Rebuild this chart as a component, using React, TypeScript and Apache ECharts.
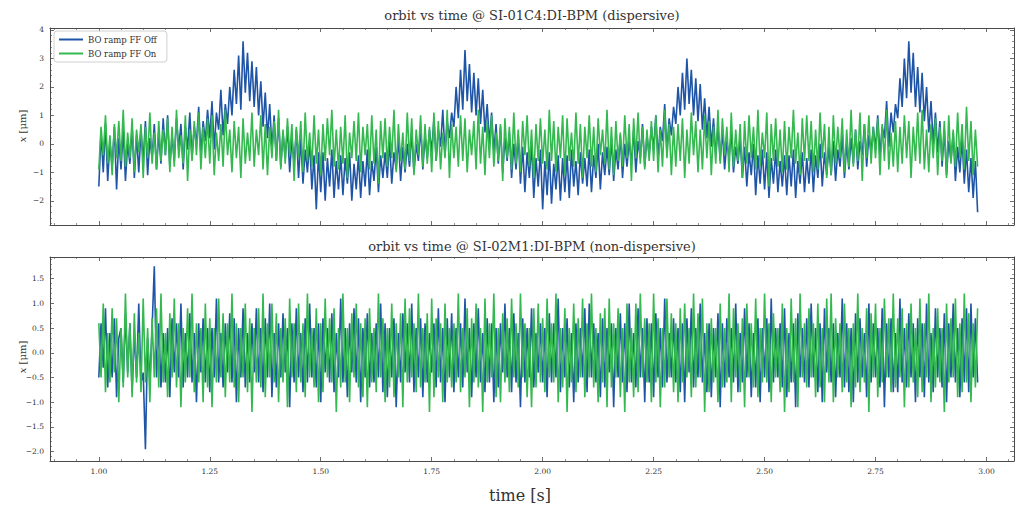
import React, { useEffect, useRef } from "react";
import * as echarts from "echarts";

// Sampling of the recorded orbit traces
const START_TIME = 1.0;
const SAMPLE_STEP = 0.005;

const SERIES_NAMES = ["BO ramp FF Off", "BO ramp FF On"];
const PANEL_TITLES = [
  "orbit vs time @ SI-01C4:DI-BPM (dispersive)",
  "orbit vs time @ SI-02M1:DI-BPM (non-dispersive)",
];

// SI-01C4 (dispersive) horizontal orbit, µm — one row per 50 ms
const dispersiveFFOff = [
  -1.5, 0.4, -1.0, 0.7, -1.3, 0.1, -0.8, 0.6, -1.6, 0.2,
  -0.9, 0.5, -1.3, 0.0, -0.7, 0.6, -1.2, 0.3, -1.0, 0.5,
  -0.6, 0.8, -1.1, 0.2, -0.5, 0.7, -0.9, 0.4, -0.7, 0.9,
  -0.4, 1.0, -0.8, 0.3, -0.6, 0.9, -0.2, 0.7, -0.9, 0.6,
  -0.2, 1.1, -0.5, 0.6, 0.0, 1.3, -0.4, 0.8, 0.1, 1.2,
  0.2, 1.5, -0.2, 1.1, 0.5, 1.9, 0.3, 1.4, 0.7, 2.0,
  1.0, 2.6, 1.4, 3.1, 1.2, 3.6, 1.8, 3.2, 1.5, 2.9,
  1.3, 2.7, 1.0, 2.2, 0.6, 1.8, 0.2, 1.4, -0.2, 1.0,
  -0.6, 0.9, -0.8, 0.4, -0.5, 0.6, -1.0, 0.2, -0.7, 0.5,
  -1.2, 0.2, -1.4, -0.2, -1.0, 0.1, -1.6, -0.4, -2.3, -0.3,
  -1.7, -0.3, -2.0, -0.5, -1.5, -0.2, -1.9, -0.6, -1.6, -0.4,
  -1.8, -0.5, -1.4, -0.3, -2.0, -0.7, -1.6, -0.4, -1.9, -0.6,
  -1.5, -0.2, -1.8, -0.6, -1.3, -0.1, -1.7, -0.4, -1.2, -0.3,
  -1.2, 0.1, -1.4, -0.3, -0.9, 0.2, -1.3, -0.1, -1.0, 0.0,
  -0.8, 0.4, -1.0, 0.0, -0.6, 0.6, -0.9, 0.3, -0.5, 0.5,
  -0.3, 0.9, -0.6, 0.5, -0.1, 1.2, -0.4, 0.8, 0.2, 1.1,
  0.6, 2.0, 0.9, 2.6, 1.2, 3.3, 1.5, 2.8, 1.1, 2.5,
  1.0, 2.3, 0.7, 1.9, 0.4, 1.4, 0.0, 1.1, -0.3, 0.7,
  -0.7, 0.6, -1.0, 0.2, -0.6, 0.4, -1.2, 0.0, -0.9, 0.3,
  -1.4, -0.1, -1.7, -0.3, -1.2, 0.0, -1.9, -0.5, -1.5, -0.2,
  -2.3, -0.6, -1.8, -0.3, -2.1, -0.7, -1.6, -0.4, -2.0, -0.5,
  -1.7, -0.4, -1.9, -0.2, -1.5, -0.6, -1.8, -0.3, -1.4, -0.5,
  -1.5, -0.2, -1.7, -0.4, -1.2, 0.0, -1.6, -0.3, -1.1, -0.1,
  -1.1, 0.2, -1.3, -0.2, -0.9, 0.3, -1.2, 0.0, -0.8, 0.1,
  -0.7, 0.5, -1.0, 0.1, -0.5, 0.7, -0.8, 0.3, -0.4, 0.6,
  -0.2, 1.0, -0.5, 0.6, 0.1, 1.4, -0.3, 0.9, 0.3, 1.3,
  0.7, 2.0, 1.0, 2.5, 1.2, 3.0, 1.4, 2.6, 1.0, 2.3,
  0.8, 2.1, 0.5, 1.6, 0.2, 1.3, -0.1, 0.9, -0.4, 0.6,
  -0.6, 0.5, -0.9, 0.1, -0.5, 0.4, -1.0, -0.1, -0.7, 0.2,
  -1.2, -0.1, -1.5, -0.3, -1.1, 0.0, -1.8, -0.4, -1.4, -0.2,
  -1.6, -0.3, -1.9, -0.5, -1.4, -0.2, -1.7, -0.6, -1.5, -0.4,
  -1.8, -0.4, -1.5, -0.2, -1.9, -0.6, -1.4, -0.3, -1.7, -0.5,
  -1.4, -0.2, -1.7, -0.4, -1.2, 0.0, -1.5, -0.3, -1.1, -0.1,
  -1.1, 0.1, -1.3, -0.2, -0.8, 0.3, -1.2, 0.0, -0.9, 0.2,
  -0.7, 0.5, -0.9, 0.1, -0.4, 0.7, -0.8, 0.3, -0.3, 0.6,
  -0.2, 1.0, -0.4, 0.6, 0.2, 1.5, -0.1, 1.1, 0.4, 1.4,
  0.9, 2.3, 1.3, 3.0, 1.6, 3.6, 1.8, 3.2, 1.3, 2.7,
  1.1, 2.5, 0.8, 2.0, 0.4, 1.5, 0.0, 1.1, -0.3, 0.8,
  -0.8, 0.5, -1.1, 0.1, -0.6, 0.4, -1.3, -0.1, -1.0, 0.2,
  -1.4, -0.2, -1.7, -0.5, -1.9, -0.6, -2.4,
];

const dispersiveFFOn = [
  -0.9, 0.6, -0.4, 1.0, -0.7, 0.3, -1.1, 0.7, -0.5, 0.8,
  -0.6, 1.2, -0.8, 0.4, -0.5, 0.9, -1.0, 0.5, -0.3, 0.7,
  -1.2, 0.6, -0.5, 1.1, -0.7, 0.4, -0.9, 0.8, -0.6, 0.5,
  -0.4, 0.9, -1.0, 0.6, -0.8, 1.2, -0.5, 0.3, -0.7, 1.0,
  -1.3, 0.5, -0.6, 0.8, -0.4, 1.1, -0.9, 0.6, -0.5, 0.9,
  -0.7, 1.0, -1.1, 0.4, -0.6, 0.7, -0.8, 1.2, -0.4, 0.5,
  -1.0, 0.8, -0.5, 0.6, -1.2, 0.9, -0.7, 0.4, -0.6, 1.1,
  -0.8, 0.5, -0.4, 1.0, -0.9, 0.7, -1.1, 0.6, -0.5, 0.8,
  -0.6, 1.2, -0.9, 0.5, -0.7, 0.9, -0.4, 0.7, -1.3, 0.6,
  -0.5, 0.8, -1.0, 1.1, -0.6, 0.4, -0.8, 1.0, -0.7, 0.5,
  -1.1, 0.7, -0.6, 0.9, -0.4, 1.2, -0.8, 0.5, -0.9, 0.6,
  -0.7, 1.0, -1.2, 0.4, -0.5, 0.8, -0.6, 1.1, -1.0, 0.6,
  -0.4, 0.7, -0.9, 1.0, -0.7, 0.5, -1.4, 0.8, -0.5, 0.9,
  -0.8, 0.6, -0.5, 1.2, -1.0, 0.7, -0.6, 0.4, -0.9, 1.1,
  -0.6, 0.9, -1.1, 0.5, -0.4, 1.0, -0.8, 0.7, -0.7, 0.6,
  -1.0, 1.1, -0.6, 0.8, -0.9, 0.4, -0.5, 1.2, -1.2, 0.7,
  -0.5, 0.6, -0.8, 1.0, -0.6, 0.9, -1.0, 0.5, -0.4, 0.8,
  -0.9, 1.2, -0.7, 0.6, -1.1, 0.8, -0.5, 1.0, -0.8, 0.4,
  -0.6, 0.7, -1.3, 0.9, -0.5, 0.6, -0.9, 1.1, -0.7, 0.5,
  -1.0, 0.8, -0.4, 1.0, -0.8, 0.5, -1.2, 0.7, -0.6, 0.9,
  -0.7, 0.5, -0.9, 1.2, -0.6, 0.8, -1.0, 0.6, -0.5, 1.0,
  -1.1, 0.9, -0.6, 0.4, -0.8, 1.1, -0.7, 0.7, -1.2, 0.6,
  -0.5, 1.0, -0.8, 0.6, -1.0, 0.9, -0.4, 0.5, -0.7, 1.2,
  -0.9, 0.6, -1.1, 0.8, -0.6, 0.4, -0.8, 1.0, -0.5, 0.7,
  -1.3, 0.9, -0.5, 1.1, -0.7, 0.6, -0.9, 0.5, -0.6, 0.8,
  -0.6, 1.0, -1.0, 0.5, -0.8, 1.2, -0.5, 0.7, -1.1, 0.6,
  -0.8, 0.7, -0.6, 0.9, -1.2, 0.5, -0.7, 1.1, -0.4, 0.8,
  -1.0, 0.5, -0.9, 1.0, -0.5, 0.8, -1.1, 0.6, -0.7, 1.2,
  -0.7, 0.9, -0.4, 0.6, -1.0, 1.1, -0.8, 0.5, -0.6, 0.7,
  -1.2, 0.8, -0.7, 1.0, -0.5, 0.6, -0.9, 1.2, -0.8, 0.4,
  -0.5, 1.1, -1.5, 0.7, -0.6, 0.9, -0.8, 0.5, -1.0, 0.8,
  -0.9, 0.6, -0.5, 1.2, -0.7, 0.4, -1.1, 0.9, -0.6, 1.0,
  -0.6, 0.8, -1.0, 0.5, -0.9, 1.1, -0.5, 0.7, -1.2, 0.6,
  -1.1, 1.0, -0.7, 0.6, -0.5, 0.9, -1.0, 0.5, -0.8, 1.2,
  -0.8, 0.5, -0.6, 1.1, -1.3, 0.7, -0.5, 1.0, -0.7, 0.6,
  -0.5, 0.9, -1.1, 0.7, -0.6, 1.2, -0.9, 0.4, -0.8, 0.8,
  -1.0, 0.6, -0.7, 1.0, -0.5, 0.8, -1.2, 0.6, -0.6, 1.1,
  -0.7, 1.2, -0.9, 0.5, -1.0, 0.7, -0.5, 0.9, -1.1, 0.6,
  -0.6, 0.8, -1.2, 1.0, -0.7, 0.5, -0.8, 1.1, -0.5, 0.7,
  -0.9, 1.3, -0.6, 0.8, -1.1, 0.5, -0.8,
];

// SI-02M1 (non-dispersive) horizontal orbit, µm — one row per 50 ms
const nonDispersiveFFOff = [
  -0.5, 0.6, -0.3, 0.9, -0.7, 0.4, -0.5, 0.7, -0.9, 0.3,
  0.5, -0.6, 0.8, -0.4, 0.6, -0.8, 0.4, -0.5, 1.0, -0.6,
  -0.4, -1.95, 0.3, -0.6, 0.5, 1.75, -0.5, 0.6, -0.7, 0.4,
  -0.6, 0.5, -0.9, 0.7, -0.4, 0.6, -0.5, 1.0, -0.7, 0.4,
  -0.5, 0.8, -0.6, 0.4, -1.0, 0.6, -0.4, 0.7, -0.6, 0.5,
  -0.8, 0.5, -0.5, 1.1, -0.6, 0.4, -0.7, 0.6, -0.4, 0.8,
  -0.6, 0.7, -1.0, 0.5, -0.5, 0.9, -0.7, 0.4, -0.6, 0.6,
  -0.4, 0.9, -0.6, 0.5, -0.8, 0.7, -0.5, 1.0, -0.9, 0.4,
  -0.7, 0.6, -0.5, 0.8, -0.4, 0.5, -1.1, 0.6, -0.6, 0.9,
  -0.5, 0.4, -0.8, 0.7, -0.6, 1.0, -0.5, 0.5, -0.7, 0.6,
  -1.0, 0.7, -0.4, 0.5, -0.6, 0.8, -0.8, 0.4, -0.5, 1.1,
  -0.6, 0.5, -0.9, 0.6, -0.4, 0.9, -0.6, 0.7, -1.0, 0.5,
  -0.5, 0.8, -0.7, 0.4, -0.6, 0.6, -0.5, 1.0, -0.8, 0.6,
  -0.9, 0.5, -0.5, 0.7, -1.1, 0.4, -0.6, 0.8, -0.4, 0.6,
  -0.6, 1.0, -0.8, 0.5, -0.5, 0.7, -0.9, 0.6, -0.6, 0.4,
  -0.4, 0.6, -0.7, 0.9, -0.6, 0.5, -1.0, 0.7, -0.5, 0.8,
  -0.8, 0.5, -0.5, 0.6, -0.7, 1.1, -0.4, 0.5, -0.9, 0.6,
  -0.5, 0.9, -0.6, 0.4, -0.8, 0.7, -0.6, 0.6, -1.0, 0.5,
  -0.7, 0.6, -0.4, 1.0, -0.5, 0.5, -0.8, 0.8, -0.6, 0.4,
  -1.1, 0.7, -0.6, 0.5, -0.5, 0.9, -0.7, 0.4, -0.4, 0.6,
  -0.6, 0.5, -0.9, 0.8, -0.6, 0.6, -0.5, 1.1, -0.8, 0.5,
  -0.5, 0.7, -0.7, 0.4, -1.0, 0.6, -0.6, 0.5, -0.5, 0.9,
  -0.8, 1.0, -0.5, 0.6, -0.6, 0.4, -0.9, 0.7, -0.7, 0.5,
  -0.4, 0.6, -1.1, 0.5, -0.5, 0.8, -0.6, 0.6, -0.8, 1.0,
  -0.6, 0.4, -0.7, 0.9, -0.5, 0.5, -1.0, 0.7, -0.6, 0.6,
  -0.9, 0.8, -0.5, 0.5, -0.7, 1.1, -0.6, 0.4, -0.5, 0.7,
  -0.6, 0.5, -0.8, 0.6, -1.0, 0.7, -0.4, 0.9, -0.7, 0.5,
  -0.5, 1.0, -0.6, 0.4, -0.8, 0.6, -0.9, 0.5, -0.5, 0.8,
  -1.1, 0.6, -0.7, 0.7, -0.5, 0.5, -0.6, 1.0, -0.8, 0.4,
  -0.6, 0.9, -0.5, 0.6, -0.9, 0.4, -0.7, 0.7, -1.0, 0.5,
  -0.5, 0.7, -0.8, 1.1, -0.6, 0.5, -0.5, 0.6, -0.7, 0.9,
  -0.9, 0.4, -0.6, 0.6, -1.1, 0.8, -0.5, 0.5, -0.6, 0.7,
  -0.7, 1.0, -0.5, 0.5, -0.8, 0.6, -1.0, 0.9, -0.4, 0.5,
  -0.6, 0.6, -0.9, 0.4, -0.5, 1.1, -0.7, 0.6, -0.8, 0.5,
  -1.0, 0.8, -0.6, 0.7, -0.5, 0.4, -0.9, 1.0, -0.6, 0.6,
  -0.5, 0.5, -0.7, 0.9, -1.1, 0.6, -0.5, 0.7, -0.8, 0.4,
  -0.8, 1.1, -0.6, 0.5, -0.7, 0.8, -0.5, 0.6, -1.0, 0.7,
  -0.5, 0.6, -0.9, 1.0, -0.6, 0.4, -0.8, 0.9, -0.5, 0.5,
  -0.7, 0.8, -1.0, 0.6, -0.5, 1.0, -0.6, 0.5, -0.9, 0.7,
  -0.6, 0.9, -0.8, 1.0, -0.5, 0.7, -0.6,
];

const nonDispersiveFFOn = [
  0.6, -0.5, 1.0, -0.8, 0.4, -0.6, 0.9, -0.4, 0.7, -1.0,
  0.5, -0.7, 1.2, -0.5, 0.6, -0.9, 0.8, -0.6, 0.4, -0.8,
  1.1, -0.6, 0.5, -1.0, 0.7, -0.5, 0.9, -0.7, 1.2, -0.6,
  0.4, -0.9, 0.8, -0.5, 1.1, -0.7, 0.6, -1.1, 0.5, -0.6,
  0.9, -0.5, 1.2, -0.8, 0.6, -0.6, 0.5, -1.0, 1.0, -0.7,
  0.7, -1.1, 0.5, -0.6, 1.1, -0.5, 0.8, -0.9, 0.6, -0.6,
  1.2, -0.7, 0.6, -1.0, 0.5, -0.5, 1.0, -0.8, 0.7, -1.2,
  0.5, -0.6, 0.9, -0.7, 1.2, -0.9, 0.6, -0.5, 1.0, -0.6,
  0.8, -1.0, 0.5, -0.6, 0.7, -1.1, 1.1, -0.5, 0.6, -0.8,
  1.0, -0.6, 0.6, -0.9, 1.2, -0.5, 0.5, -0.7, 0.9, -1.0,
  0.6, -0.8, 1.1, -0.5, 0.7, -0.6, 0.9, -1.2, 0.5, -0.7,
  1.2, -0.6, 0.5, -1.0, 0.8, -0.5, 1.0, -0.7, 0.6, -0.9,
  0.7, -1.1, 0.9, -0.6, 0.5, -0.8, 1.2, -0.5, 0.7, -1.0,
  0.5, -0.7, 1.0, -0.9, 0.6, -0.5, 0.8, -1.1, 1.1, -0.6,
  0.9, -0.5, 0.6, -0.8, 1.2, -0.7, 0.5, -0.6, 0.8, -1.2,
  1.1, -0.9, 0.7, -0.5, 0.6, -1.0, 1.0, -0.6, 0.5, -0.7,
  0.6, -0.6, 1.2, -0.8, 0.5, -0.5, 0.9, -1.1, 0.7, -0.6,
  1.0, -0.7, 0.5, -1.2, 1.1, -0.6, 0.6, -0.5, 1.2, -0.9,
  0.5, -1.0, 0.8, -0.6, 0.7, -0.8, 1.1, -0.5, 0.6, -0.7,
  1.2, -0.5, 0.6, -0.9, 0.5, -1.1, 0.9, -0.7, 1.0, -0.6,
  0.7, -0.8, 1.1, -0.5, 0.6, -0.6, 1.2, -1.0, 0.5, -0.7,
  0.9, -1.2, 0.5, -0.6, 1.0, -0.8, 0.7, -0.5, 1.1, -0.9,
  0.6, -0.5, 1.2, -0.7, 0.5, -1.0, 0.8, -0.6, 0.9, -1.1,
  1.1, -0.7, 0.6, -0.5, 0.9, -0.9, 0.5, -1.2, 1.0, -0.6,
  0.5, -0.9, 1.0, -0.8, 1.2, -0.5, 0.7, -0.6, 0.6, -1.0,
  1.2, -0.6, 0.7, -1.1, 0.5, -0.7, 1.1, -0.5, 0.8, -0.8,
  0.6, -1.0, 0.9, -0.6, 1.0, -0.5, 0.5, -0.9, 1.2, -0.7,
  0.8, -0.5, 1.1, -1.2, 0.6, -0.8, 0.7, -0.6, 0.5, -1.0,
  1.0, -0.7, 0.5, -0.6, 1.2, -1.0, 0.9, -0.5, 0.6, -0.8,
  0.7, -1.1, 1.0, -0.5, 0.6, -0.7, 1.1, -0.9, 0.5, -0.6,
  1.2, -0.6, 0.6, -1.0, 0.8, -0.5, 0.5, -0.8, 1.0, -1.2,
  0.5, -0.8, 1.1, -0.6, 0.7, -1.1, 1.2, -0.5, 0.6, -0.7,
  0.9, -0.5, 0.6, -0.9, 1.0, -0.7, 0.5, -1.0, 1.1, -0.6,
  1.2, -1.0, 0.7, -0.5, 0.6, -0.8, 1.0, -0.6, 0.5, -1.1,
  0.6, -0.7, 1.2, -0.8, 0.5, -0.6, 0.9, -1.2, 0.8, -0.5,
  1.0, -0.9, 0.5, -0.6, 1.1, -0.5, 0.7, -0.8, 1.2, -0.7,
  0.7, -0.5, 0.9, -1.1, 0.6, -0.7, 1.0, -0.6, 0.5, -0.9,
  1.1, -0.8, 0.6, -0.5, 1.2, -1.0, 0.5, -0.7, 0.9, -0.6,
  0.5, -1.2, 1.0, -0.6, 0.7, -0.5, 1.1, -0.9, 0.6, -0.8,
  1.2, -0.6, 0.8, -1.0, 0.6, -0.7, 0.9,
];

// Axis ticks
const timeTicks = [1.0, 1.25, 1.5, 1.75, 2.0, 2.25, 2.5, 2.75, 3.0];
const timeMinorTicks = [
  0.9, 0.95, 1.05, 1.1, 1.15, 1.2, 1.3, 1.35, 1.4, 1.45, 1.55, 1.6, 1.65, 1.7,
  1.8, 1.85, 1.9, 1.95, 2.05, 2.1, 2.15, 2.2, 2.3, 2.35, 2.4, 2.45, 2.55, 2.6,
  2.65, 2.7, 2.8, 2.85, 2.9, 2.95, 3.05,
];
const dispersiveTicks = [-2, -1, 0, 1, 2, 3, 4];
const dispersiveMinorTicks = [
  -2.8, -2.6, -2.4, -2.2, -1.8, -1.6, -1.4, -1.2, -0.8, -0.6, -0.4, -0.2,
  0.2, 0.4, 0.6, 0.8, 1.2, 1.4, 1.6, 1.8, 2.2, 2.4, 2.6, 2.8, 3.2, 3.4, 3.6, 3.8,
];
const nonDispersiveTicks = [-2.0, -1.5, -1.0, -0.5, 0.0, 0.5, 1.0, 1.5];
const nonDispersiveMinorTicks = [
  -2.1, -1.9, -1.8, -1.7, -1.6, -1.4, -1.3, -1.2, -1.1, -0.9, -0.8, -0.7, -0.6,
  -0.4, -0.3, -0.2, -0.1, 0.1, 0.2, 0.3, 0.4, 0.6, 0.7, 0.8, 0.9, 1.1, 1.2,
  1.3, 1.4, 1.6, 1.7, 1.8, 1.9,
];

const FONT = "DejaVu Serif";
const FRAME = "#4a4a4a";
const BLUE = "#1f55a6";
const GREEN = "#33b94f";

const toPoints = (vals: number[]) =>
  vals.map((v, i) => [Number((START_TIME + i * SAMPLE_STEP).toFixed(4)), v]);

const minus = (s: string) => s.replace("-", "\u2212");

type AxisSpec = {
  gridIndex: number;
  min: number;
  max: number;
  majors: number[];
  minors: number[];
  labels: boolean;
  fmt: (v: number) => string;
};

// Per side: a main axis (frame line, major ticks, labels) and a minor-tick axis.
function frameAxes(spec: AxisSpec, sides: [string, string]) {
  const out: any[] = [];
  sides.forEach((side, k) => {
    out.push({
      type: "value",
      gridIndex: spec.gridIndex,
      position: side,
      min: spec.min,
      max: spec.max,
      axisLine: { show: true, onZero: false, lineStyle: { color: FRAME, width: 1 } },
      axisTick: {
        show: true,
        inside: true,
        length: 4,
        customValues: spec.majors,
        lineStyle: { color: FRAME, width: 0.8 },
      },
      axisLabel: {
        show: spec.labels && k === 0,
        customValues: spec.majors,
        formatter: (v: number) => spec.fmt(v),
        fontSize: 7.5,
        color: "#333",
        fontFamily: FONT,
        margin: 6,
      },
      splitLine: { show: false },
    });
    out.push({
      type: "value",
      gridIndex: spec.gridIndex,
      position: side,
      min: spec.min,
      max: spec.max,
      axisLine: { show: false, onZero: false },
      axisTick: {
        show: true,
        inside: true,
        length: 2,
        customValues: spec.minors,
        lineStyle: { color: FRAME, width: 0.6 },
      },
      axisLabel: { show: false },
      splitLine: { show: false },
    });
  });
  return out;
}

const X_MIN = 0.89;
const X_MAX = 3.062;

export default function App() {
  const ref = useRef<HTMLDivElement>(null);

  useEffect(() => {
    if (!ref.current) return;
    const chart = echarts.init(ref.current, null, { renderer: "svg" });

    const xAxes = [
      ...frameAxes(
        { gridIndex: 0, min: X_MIN, max: X_MAX, majors: timeTicks, minors: timeMinorTicks, labels: false, fmt: (v) => v.toFixed(2) },
        ["bottom", "top"]
      ),
      ...frameAxes(
        { gridIndex: 1, min: X_MIN, max: X_MAX, majors: timeTicks, minors: timeMinorTicks, labels: true, fmt: (v) => v.toFixed(2) },
        ["bottom", "top"]
      ),
    ];
    const yAxes = [
      ...frameAxes(
        { gridIndex: 0, min: -2.85, max: 4.07, majors: dispersiveTicks, minors: dispersiveMinorTicks, labels: true, fmt: (v) => minus(String(Math.round(v))) },
        ["left", "right"]
      ),
      ...frameAxes(
        { gridIndex: 1, min: -2.19, max: 1.94, majors: nonDispersiveTicks, minors: nonDispersiveMinorTicks, labels: true, fmt: (v) => minus(v.toFixed(1)) },
        ["left", "right"]
      ),
    ];

    const line = (name: string, color: string, data: number[], axis: number) => ({
      type: "line",
      name,
      data: toPoints(data),
      xAxisIndex: axis,
      yAxisIndex: axis,
      showSymbol: false,
      symbol: "none",
      lineStyle: { color, width: 1.6 },
      itemStyle: { color },
      emphasis: { disabled: true },
    });

    const yLabel = (y: number) => ({
      type: "text",
      x: 22,
      y,
      rotation: Math.PI / 2,
      style: {
        text: "{i|x} [μm]",
        fontFamily: FONT,
        fontSize: 10,
        fill: "#333",
        align: "center",
        verticalAlign: "middle",
        rich: { i: { fontStyle: "italic", fontFamily: FONT, fontSize: 10, fill: "#333" } },
      },
    });

    const title = (text: string, y: number) => ({
      type: "text",
      x: 532,
      y,
      style: {
        text,
        fontFamily: FONT,
        fontSize: 13,
        fill: "#333",
        align: "center",
        verticalAlign: "middle",
      },
    });

    chart.setOption({
      animation: false,
      backgroundColor: "#fff",
      grid: [
        { left: 50, right: 2, top: 28, height: 197, containLabel: false, outerBoundsMode: "none" },
        { left: 50, right: 2, top: 257, height: 204, containLabel: false, outerBoundsMode: "none" },
      ],
      xAxis: xAxes,
      yAxis: yAxes,
      legend: {
        data: SERIES_NAMES,
        orient: "vertical",
        left: 54,
        top: 31,
        padding: [4, 10, 4, 5],
        itemGap: 5,
        itemWidth: 24,
        itemHeight: 2,
        icon: "rect",
        borderColor: "#d0d0d0",
        borderWidth: 1,
        borderRadius: 3,
        backgroundColor: "rgba(255,255,255,0.8)",
        textStyle: { fontFamily: FONT, fontSize: 8.5, color: "#333" },
      },
      graphic: [
        title(PANEL_TITLES[0], 15),
        title(PANEL_TITLES[1], 246),
        yLabel(126),
        yLabel(357),
        {
          type: "text",
          x: 520,
          y: 495,
          style: {
            text: "time [s]",
            fontFamily: FONT,
            fontSize: 16,
            fill: "#333",
            align: "center",
            verticalAlign: "middle",
          },
        },
      ],
      series: [
        line(SERIES_NAMES[0], BLUE, dispersiveFFOff, 0),
        line(SERIES_NAMES[1], GREEN, dispersiveFFOn, 0),
        line(SERIES_NAMES[0], BLUE, nonDispersiveFFOff, 4),
        line(SERIES_NAMES[1], GREEN, nonDispersiveFFOn, 4),
      ],
    });

    return () => chart.dispose();
  }, []);

  return (
    <div
      ref={ref}
      style={{ position: "fixed", left: 0, top: 0, width: 1016, height: 508 }}
    />
  );
}
